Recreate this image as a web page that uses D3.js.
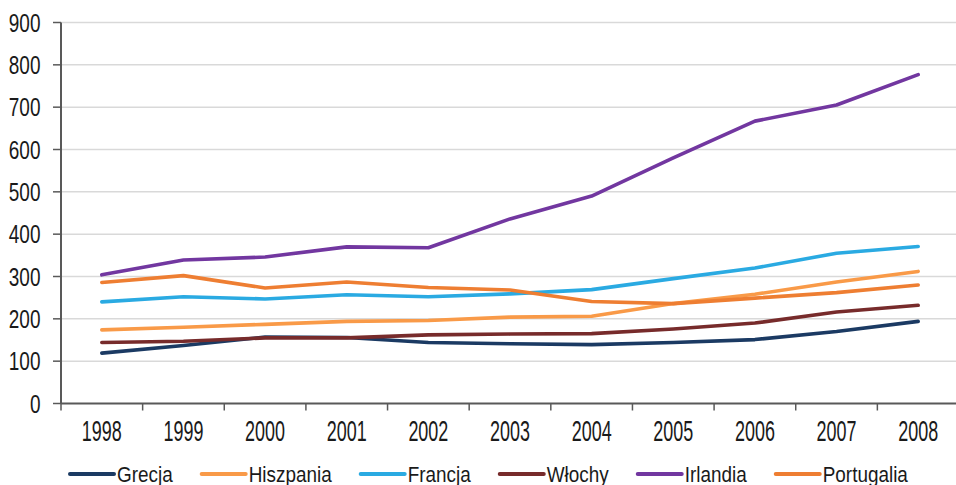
<!DOCTYPE html>
<html>
<head>
<meta charset="utf-8">
<script src="https://cdn.jsdelivr.net/npm/d3@7"></script>
<style>
  html, body { margin: 0; padding: 0; background: #fff; }
  svg { display: block; font-family: "Liberation Sans", Arial, sans-serif; }
</style>
</head>
<body>
<div id="chart"></div>
<script>
const years = ["1998", "1999", "2000", "2001", "2002", "2003", "2004", "2005", "2006", "2007", "2008"];
const yTicks = [0, 100, 200, 300, 400, 500, 600, 700, 800, 900];

const seriesNames = ["Grecja", "Hiszpania", "Francja", "Włochy", "Irlandia", "Portugalia"];
const seriesColors = ["#1b3a63", "#f99a48", "#2aaae2", "#772b2b", "#7237a0", "#ee7e32"];

const grecja = [119, 137, 157, 156, 144, 141, 139, 144, 151, 170, 194];
const hiszpania = [174, 180, 187, 194, 196, 204, 206, 236, 258, 287, 312];
const francja = [240, 252, 247, 257, 252, 259, 269, 295, 320, 355, 371];
const wlochy = [144, 147, 155, 155, 162, 164, 165, 176, 190, 216, 232];
const irlandia = [304, 339, 346, 370, 368, 436, 490, 580, 667, 705, 777];
const portugalia = [286, 302, 273, 287, 274, 268, 241, 236, 249, 262, 280];

const seriesValues = [grecja, hiszpania, francja, wlochy, irlandia, portugalia];

const width = 956;
const height = 485;
const margin = { left: 61, right: 959, top: 22.5, bottom: 403.5 };

const svg = d3.select("#chart")
  .append("svg")
  .attr("width", width)
  .attr("height", height);

const x = d3.scaleBand()
  .domain(years)
  .range([margin.left, margin.right]);

const y = d3.scaleLinear()
  .domain([0, 900])
  .range([margin.bottom, margin.top]);

// gridlines
svg.append("g")
  .selectAll("line")
  .data(yTicks.filter(d => d > 0))
  .enter()
  .append("line")
  .attr("x1", margin.left)
  .attr("x2", margin.right)
  .attr("y1", d => y(d))
  .attr("y2", d => y(d))
  .attr("stroke", "#d9d9d9")
  .attr("stroke-width", 1.5);

// y axis
const yAxis = svg.append("g");
yAxis.append("line")
  .attr("x1", margin.left).attr("x2", margin.left)
  .attr("y1", y(900)).attr("y2", y(0))
  .attr("stroke", "#595959").attr("stroke-width", 2);
yAxis.selectAll("line.tick")
  .data(yTicks)
  .enter()
  .append("line")
  .attr("class", "tick")
  .attr("x1", margin.left - 8).attr("x2", margin.left)
  .attr("y1", d => y(d)).attr("y2", d => y(d))
  .attr("stroke", "#595959").attr("stroke-width", 1.5);
yAxis.selectAll("text")
  .data(yTicks)
  .enter()
  .append("text")
  .attr("transform", d => `translate(40.5, ${y(d)}) scale(0.76, 1)`)
  .attr("text-anchor", "end")
  .attr("dy", "0.36em")
  .style("font-size", "25px")
  .style("fill", "#1a1a1a")
  .text(d => d);

// x axis
const xAxis = svg.append("g");
xAxis.append("line")
  .attr("x1", margin.left).attr("x2", margin.right)
  .attr("y1", y(0)).attr("y2", y(0))
  .attr("stroke", "#595959").attr("stroke-width", 2);
xAxis.selectAll("line.tick")
  .data(years.concat(["end"]))
  .enter()
  .append("line")
  .attr("class", "tick")
  .attr("x1", d => d === "end" ? margin.right : x(d))
  .attr("x2", d => d === "end" ? margin.right : x(d))
  .attr("y1", y(0)).attr("y2", y(0) + 7)
  .attr("stroke", "#595959").attr("stroke-width", 1.5);
xAxis.selectAll("text")
  .data(years)
  .enter()
  .append("text")
  .attr("transform", d => `translate(${x(d) + x.bandwidth() / 2}, 441) scale(0.62, 1)`)
  .attr("text-anchor", "middle")
  .style("font-size", "29px")
  .style("fill", "#1a1a1a")
  .text(d => d);

// lines
const line = d3.line()
  .x((d, i) => x(years[i]) + x.bandwidth() / 2)
  .y(d => y(d));

svg.append("g")
  .selectAll("path")
  .data(seriesValues)
  .enter()
  .append("path")
  .attr("d", d => line(d))
  .attr("fill", "none")
  .attr("stroke", (d, i) => seriesColors[i])
  .attr("stroke-width", 3.6)
  .attr("stroke-linejoin", "round")
  .attr("stroke-linecap", "round");

// legend
const legend = svg.append("g").attr("transform", "translate(70, 474)");
let lx = 0;
seriesNames.forEach((name, i) => {
  const item = legend.append("g").attr("transform", `translate(${lx}, 0)`);
  item.append("line")
    .attr("x1", 0).attr("x2", 44)
    .attr("y1", 0).attr("y2", 0)
    .attr("stroke", seriesColors[i])
    .attr("stroke-width", 4)
    .attr("stroke-linecap", "round");
  const t = item.append("text")
    .attr("transform", "translate(47, 0) scale(0.86, 1)")
    .attr("dy", "0.36em")
    .style("font-size", "22px")
    .style("fill", "#1a1a1a")
    .text(name);
  const w = t.node().getComputedTextLength() * 0.86;
  lx += 47 + w + 29;
});
</script>
</body>
</html>
